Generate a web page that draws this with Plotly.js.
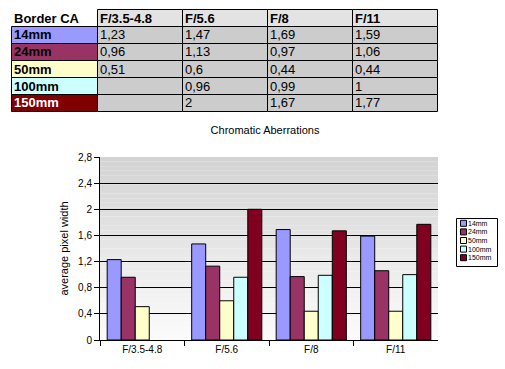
<!DOCTYPE html>
<html>
<head>
<meta charset="utf-8">
<script src="https://cdn.plot.ly/plotly-3.0.1.min.js"></script>
<style>html,body{margin:0;padding:0;background:#fff}#chart{width:505px;height:369px}</style>
</head>
<body>
<div id="chart"></div>
<script>
const categories = ['F/3.5-4.8', 'F/5.6', 'F/8', 'F/11'];
const seriesNames = ['14mm', '24mm', '50mm', '100mm', '150mm'];
const values14 = [1.23, 1.47, 1.69, 1.59];
const values24 = [0.96, 1.13, 0.97, 1.06];
const values50 = [0.51, 0.6, 0.44, 0.44];
const values100 = [null, 0.96, 0.99, 1];
const values150 = [null, 2, 1.67, 1.77];
const yTickVals = [0, 0.4, 0.8, 1.2, 1.6, 2, 2.4, 2.8];
const tableCorner = 'Border CA';
const chartTitle = 'Chromatic Aberrations';
const yTitle = 'average pixel width';

const seriesValues = [values14, values24, values50, values100, values150];
const barColors = ['#9999ff', '#993366', '#ffffcc', '#ccffff', '#800020'];
const labelColors = ['#9999ff', '#993366', '#ffffcc', '#ccffff', '#800000'];
const labelFont = ['#000', '#000', '#000', '#000', '#fff'];
const W = 505, H = 369;
const px = x => x / W;
const py = y => (H - y) / H;
const FONT = 'Liberation Sans, Arial, sans-serif';
const fmt = v => v == null ? '' : String(v).replace('.', ',');

const traces = [];
seriesNames.forEach((name, i) => {
  traces.push({
    type: 'bar', name: name, x: categories, y: seriesValues[i],
    marker: {color: barColors[i], line: {color: '#000', width: 1}},
    showlegend: false, hoverinfo: 'x+y+name'
  });
});

const shapes = [];
const annotations = [];

// background gradient of the plot area
const N = 40;
for (let i = 0; i < N; i++) {
  const t = (i + 0.5) / N;
  const g = Math.round(252 - (252 - 210) * t);
  shapes.push({type: 'rect', xref: 'x domain', yref: 'y domain', x0: 0, x1: 1,
    y0: i / N, y1: (i + 1) / N, fillcolor: `rgb(${g},${g},${g})`, line: {width: 0}, layer: 'below'});
}

// data table (drawn from the arrays)
const colEdges = [11.5, 97.5, 182.5, 267.5, 352.5, 437.5];
const rowTop = 9.5, rowH = 17;
const tableRows = [[tableCorner].concat(categories)];
seriesNames.forEach((name, i) => tableRows.push([name].concat(categories.map((c, j) => fmt(seriesValues[i][j])))));
tableRows.forEach((row, r) => {
  const y0 = rowTop + r * rowH, y1 = y0 + rowH;
  row.forEach((txt, c) => {
    const x0 = colEdges[c], x1 = colEdges[c + 1];
    let fill, fcol = '#000', bold = false, noLine = false;
    if (r === 0) {
      bold = true;
      if (c === 0) { fill = '#ffffff'; noLine = true; } else fill = '#e3e3e3';
    } else if (c === 0) {
      bold = true; fill = labelColors[r - 1]; fcol = labelFont[r - 1];
    } else fill = '#cccccc';
    shapes.push({type: 'rect', xref: 'paper', yref: 'paper', x0: px(x0), x1: px(x1), y0: py(y1), y1: py(y0),
      fillcolor: fill, line: noLine ? {width: 0} : {color: '#000', width: 1}});
    if (txt !== '') {
      annotations.push({xref: 'paper', yref: 'paper', x: px(x0 + 0.5), y: py((y0 + y1) / 2), xanchor: 'left', yanchor: 'middle',
        text: bold ? '<b>' + txt + '</b>' : txt, showarrow: false, font: {family: FONT, size: 13, color: fcol}});
    }
  });
});

// legend
shapes.push({type: 'rect', xref: 'paper', yref: 'paper', x0: px(456.5), x1: px(497.5), y0: py(266.5), y1: py(218.5),
  line: {color: '#000', width: 1}, fillcolor: '#fff'});
seriesNames.forEach((name, i) => {
  const cy = 223.3 + 8.6 * i;
  shapes.push({type: 'rect', xref: 'paper', yref: 'paper', x0: px(460.5), x1: px(466.5), y0: py(cy + 3), y1: py(cy - 3),
    line: {color: '#000', width: 1}, fillcolor: barColors[i]});
  annotations.push({xref: 'paper', yref: 'paper', x: px(466), y: py(cy), xanchor: 'left', yanchor: 'middle',
    text: name, showarrow: false, font: {family: FONT, size: 7, color: '#000'}});
});

const layout = {
  width: W, height: H,
  margin: {l: 0, r: 0, t: 0, b: 0},
  paper_bgcolor: '#fff', plot_bgcolor: 'rgba(0,0,0,0)',
  separators: ', ',
  font: {family: FONT, color: '#000'},
  title: {text: chartTitle, x: px(265), xanchor: 'center', y: py(130), yanchor: 'middle', yref: 'container',
    font: {family: FONT, size: 11, color: '#000'}},
  barmode: 'group', bargap: 0.17, bargroupgap: 0,
  showlegend: false,
  xaxis: {domain: [px(100), px(438)], type: 'category', tickson: 'boundaries', ticks: 'outside', ticklen: 5,
    tickcolor: '#000', showline: true, linecolor: '#000', linewidth: 1, showgrid: false,
    tickfont: {family: FONT, size: 10, color: '#000'}, automargin: false},
  yaxis: {domain: [py(340), py(157)], range: [0, 2.8], tickvals: yTickVals, ticks: 'outside', ticklen: 5,
    tickcolor: '#000', showline: true, linecolor: '#000', linewidth: 1, showgrid: true, gridcolor: '#000',
    gridwidth: 1, zeroline: false, tickfont: {family: FONT, size: 10, color: '#000'}, automargin: false,
    title: {text: yTitle, font: {family: FONT, size: 11, color: '#000'}}},
  shapes: shapes, annotations: annotations
};
Plotly.newPlot('chart', traces, layout, {displayModeBar: false, staticPlot: true});
</script>
</body>
</html>
